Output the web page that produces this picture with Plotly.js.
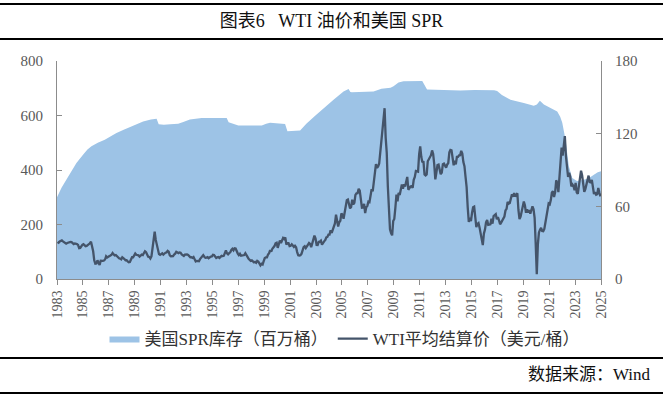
<!DOCTYPE html>
<html><head><meta charset="utf-8">
<script src="https://cdn.plot.ly/plotly-3.0.1.min.js"></script>
<style>html,body{margin:0;padding:0;background:#fff}#chart{width:663px;height:397px}</style>
</head><body><div id="chart"></div>
<script>
// US SPR inventory (million barrels), decimal-year dates
const sprDates = [1983.25,1983.6,1983.97,1984.4,1984.75,1985.26,1985.6,1985.91,1986.4,1986.94,1987.4,1987.84,1988.4,1988.87,1989.4,1989.9,1990.5,1990.94,1991.1,1991.5,1992.0,1992.61,1993.0,1993.51,1994.42,1995.5,1996.35,1996.5,1997.0,1997.25,1998.0,1999.06,1999.4,1999.7,2000.86,2001.04,2002.02,2002.5,2003.18,2003.9,2004.6,2005.37,2005.76,2005.9,2006.02,2007.69,2008.3,2009.0,2009.23,2009.62,2010.0,2011.45,2011.65,2011.82,2014.39,2015.5,2017.0,2017.23,2017.6,2018.26,2019.29,2020.06,2020.3,2020.53,2020.84,2021.3,2021.87,2022.1,2022.26,2022.51,2022.77,2023.03,2023.4,2023.93,2024.3,2024.7,2025.0,2025.25];
const sprValues = [300,335,364,400,426,456,475,487,500,511,524,536,548,558,569,578,585,588,568,566,568,570,576,585,591,591,591,575,566,563,563,563,570,573,569,542,545,570,599,630,658,688,697,686,685,688,698,702,707,721,726,727,712,695,692,694,693,690,675,658,646,636,640,654,640,630,615,595,573,511,413,371,360,364,370,383,392,395];

// WTI settlement price (USD/bbl), monthly from Apr 1983 to Mar 2025
const wtiStartYear = 1983, wtiStartMonth = 4;
const wtiValues = [
 30.6,30.0,31.0,31.7,31.9,31.1,30.4,29.8,29.2,
 29.7,30.1,30.8,30.6,30.5,30.0,28.8,29.3,29.3,28.8,28.1,25.4,
 25.6,27.3,28.2,28.8,27.6,27.1,27.3,27.8,28.3,29.5,30.8,27.2,
 22.9,15.4,12.6,12.8,15.4,13.5,11.6,15.1,14.9,14.9,15.2,16.1,
 18.7,17.7,18.3,18.6,19.4,20.0,21.4,20.3,19.5,19.8,18.9,17.3,
 17.1,16.8,16.2,17.9,17.4,16.5,15.5,15.5,14.5,13.8,14.0,16.3,
 18.0,17.9,19.4,21.0,20.0,20.0,19.6,18.5,19.6,20.1,19.8,21.1,
 22.9,22.1,20.4,18.4,18.2,16.9,18.6,27.2,33.7,39.0,32.3,27.3,
 25.2,20.5,19.9,20.8,21.2,20.2,21.4,21.7,21.9,23.2,22.5,19.5,
 18.8,19.0,18.9,20.2,20.9,22.4,21.8,21.4,21.9,21.7,20.3,19.4,
 19.1,20.1,20.3,20.3,19.9,19.1,17.9,18.0,17.5,18.2,16.7,14.5,
 15.0,14.8,14.7,16.4,17.9,19.1,19.7,18.4,17.5,17.7,18.1,17.2,
 18.0,18.5,18.6,19.9,19.7,18.5,17.3,17.9,18.1,17.4,18.1,19.1,
 18.9,19.1,21.4,23.6,21.2,20.4,21.3,22.0,24.0,24.9,23.7,25.4,
 25.2,22.2,21.0,19.7,20.8,19.2,19.6,19.9,19.8,21.3,20.2,18.3,
 16.7,16.1,15.0,15.4,14.9,13.7,14.2,13.4,15.0,14.4,12.9,11.3,
 12.5,12.0,14.7,17.3,17.8,17.9,20.1,21.3,23.9,22.6,25.0,26.1,
 27.2,29.4,29.9,25.7,28.8,31.8,29.7,31.3,33.9,33.1,34.4,28.5,
 29.6,29.6,27.2,27.4,28.6,27.6,26.4,27.4,26.2,22.2,19.6,19.4,
 19.7,20.7,24.5,26.2,27.0,25.5,26.9,28.4,29.7,28.9,26.3,29.4,
 33.0,35.8,33.5,28.2,28.1,30.7,30.8,31.6,28.3,30.3,31.1,32.1,
 34.3,34.7,36.7,36.7,40.3,38.0,40.7,44.9,45.9,53.1,48.5,43.3,
 46.8,48.1,54.2,53.0,49.8,56.4,59.0,65.0,65.6,62.4,58.3,59.4,
 65.5,61.6,62.9,69.4,70.8,70.9,74.4,73.0,63.8,58.9,59.1,62.0,
 54.5,59.3,60.4,63.9,63.5,67.5,74.1,72.4,79.9,85.8,94.8,91.7,
 93.0,95.4,105.5,112.6,125.4,134.0,141.0,116.7,104.1,76.6,57.3,41.1,
 38.0,36.0,47.9,49.6,59.0,69.6,64.2,71.1,69.4,75.7,78.0,74.5,
 78.3,76.4,81.2,84.3,73.7,75.3,76.3,76.6,75.2,81.9,84.3,89.2,
 89.2,88.6,102.9,109.5,100.9,96.3,97.3,86.3,85.5,86.3,97.2,98.6,
 100.3,102.2,106.2,103.3,94.7,82.3,87.9,94.1,94.5,89.5,86.5,87.9,
 94.8,95.3,92.9,92.0,94.5,95.8,104.6,106.6,106.3,100.5,93.9,97.6,
 94.6,100.8,100.8,102.1,102.2,105.8,103.6,96.5,93.2,84.4,75.8,59.3,
 47.2,50.6,47.8,54.5,59.3,59.8,50.9,42.9,45.5,46.2,42.4,37.2,
 31.7,28.0,37.5,40.8,46.7,48.8,44.7,44.7,45.2,49.8,45.7,52.0,
 52.5,53.5,49.3,51.1,48.5,45.2,46.6,48.0,49.8,51.6,56.6,57.9,
 63.7,62.2,62.7,66.3,70.0,67.9,71.0,68.1,70.2,70.8,57.0,49.5,
 51.4,55.0,58.2,63.9,60.8,54.7,57.4,54.8,57.0,54.0,57.0,59.9,
 57.5,50.5,29.2,4.0,28.6,38.3,40.7,42.3,39.6,39.4,41.4,47.0,
 52.0,59.0,62.3,61.7,65.2,71.4,72.5,67.7,71.6,81.5,79.2,71.7,
 83.2,91.6,108.5,101.8,109.6,118.0,101.6,93.7,84.3,87.6,84.4,76.4,
 78.1,76.8,73.3,79.4,71.6,70.3,76.1,81.4,89.4,85.6,77.7,71.9,
 74.2,77.3,81.3,85.4,80.0,79.8,81.8,76.7,70.2,71.6,69.6,70.0,
 75.1,71.2,68.2
];
const tickYears = [];
for (let y = 1983; y <= 2025; y += 2) tickYears.push(y);

const wtiDates = wtiValues.map((v, i) => wtiStartYear + (wtiStartMonth - 1 + i) / 12 + 1 / 24);

const axisCol = '#8c8c8c';
const tickFont = {family: 'Liberation Serif, Times New Roman, serif', size: 15, color: '#595959'};
const mixFont = 'Liberation Serif, Noto Sans CJK SC, serif';

const traces = [
  {x: sprDates, y: sprValues, type: 'scatter', mode: 'lines', name: '美国SPR库存（百万桶）',
   fill: 'tozeroy', fillcolor: '#9dc3e6', line: {width: 0, color: '#9dc3e6'}, yaxis: 'y'},
  {x: wtiDates, y: wtiValues, type: 'scatter', mode: 'lines', name: 'WTI平均结算价（美元/桶）',
   line: {width: 2.3, color: '#44546a'}, yaxis: 'y2'}
];

const layout = {
  width: 663, height: 397,
  margin: {l: 57, r: 62, t: 61, b: 118},
  paper_bgcolor: '#fff', plot_bgcolor: '#fff',
  showlegend: true,
  title: {text: '图表6   WTI 油价和美国 SPR', x: 0.5, xanchor: 'center', y: 1 - 21 / 397, yanchor: 'middle',
          font: {family: mixFont, size: 18, color: '#111'}},
  xaxis: {range: [1983.25, 2025.25], tickvals: tickYears.map(y => y + 0.25), ticktext: tickYears.map(String),
          tickangle: -90, ticks: 'outside', ticklen: 5, tickcolor: axisCol, showline: true, linecolor: axisCol,
          linewidth: 1, showgrid: false, zeroline: false, tickfont: {family: tickFont.family, size: 14, color: '#595959'}},
  yaxis: {range: [0, 800], tickvals: [0, 200, 400, 600, 800], ticks: 'inside', ticklen: 5, tickcolor: axisCol,
          showline: true, linecolor: axisCol, linewidth: 1, showgrid: false, zeroline: false, tickfont: tickFont,
          ticklabelstandoff: 10},
  yaxis2: {range: [0, 180], tickvals: [0, 60, 120, 180], overlaying: 'y', side: 'right', ticks: 'inside', ticklen: 5,
           tickcolor: axisCol, showline: true, linecolor: axisCol, linewidth: 1, showgrid: false, zeroline: false,
           tickfont: tickFont, ticklabelstandoff: 10},
  legend: {orientation: 'h', x: 0.5 + 16 / 544, xanchor: 'center', y: (279 - 339) / 218, yanchor: 'middle',
           font: {family: mixFont, size: 17, color: '#333'}, bgcolor: 'rgba(0,0,0,0)', itemwidth: 30, tracegroupgap: 0},
  annotations: [
    {text: '数据来源：Wind', xref: 'paper', yref: 'paper', x: (653 - 57) / 544, xanchor: 'right',
     y: (279 - 374) / 218, yanchor: 'middle', showarrow: false, font: {family: mixFont, size: 17, color: '#111'}}
  ],
  shapes: [4, 39, 358, 393].map(py => ({type: 'line', xref: 'paper', yref: 'paper',
     x0: -57 / 544, x1: (663 - 57) / 544, y0: (279 - py) / 218, y1: (279 - py) / 218,
     line: {color: '#000', width: 2}}))
};

Plotly.newPlot('chart', traces, layout, {displayModeBar: false, staticPlot: true});
</script></body></html>
